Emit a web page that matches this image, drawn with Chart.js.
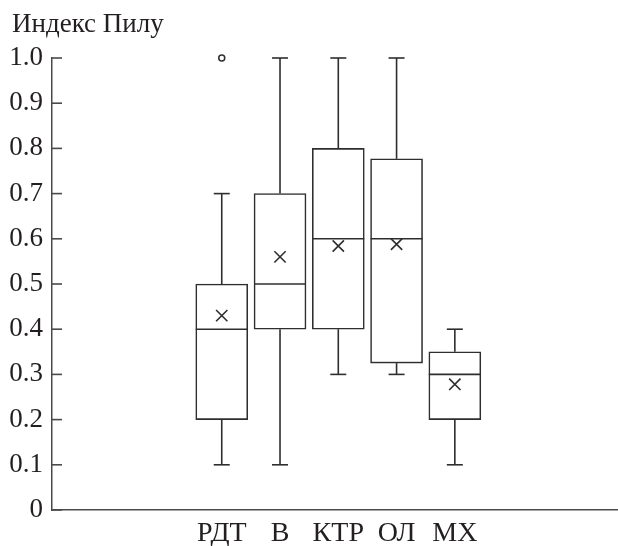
<!DOCTYPE html>
<html>
<head>
<meta charset="utf-8">
<script src="https://cdn.jsdelivr.net/npm/chart.js@4.4.1/dist/chart.umd.min.js"></script>
<style>
  html, body { margin: 0; padding: 0; background: #fff; overflow: hidden; }
  #wrap { width: 618px; height: 546px; position: relative; }
</style>
</head>
<body>
<div id="wrap"><canvas id="chart"></canvas></div>
<script>
// ---- data ----
const groups      = ['РДТ', 'В', 'КТР', 'ОЛ', 'МХ'];
const whiskerLow  = [0.1, 0.1, 0.3, 0.3, 0.1];
const q1          = [0.2, 0.4, 0.4, 0.325, 0.2];
const medians     = [0.4, 0.5, 0.6, 0.6, 0.3];
const q3          = [0.5, 0.7, 0.8, 0.777, 0.35];
const whiskerHigh = [0.7, 1.0, 1.0, 1.0, 0.4];
const means       = [0.43, 0.56, 0.584, 0.588, 0.278];
const outlierGroups = ['РДТ'];
const outlierValues = [1.0];
const yTitle = 'Индекс Пилу';

// ---- styles ----
const FONT = "'Liberation Serif', 'DejaVu Serif', serif";
const TEXT = '#231f20';
const LINE = '#2e2e2e';
const AXIS = '#4a4a4a';

// Box extras: whiskers, caps, medians, inward y ticks and the axis title
const boxExtras = {
  id: 'boxExtras',
  afterDatasetsDraw(chart) {
    const { ctx, chartArea, scales: { y } } = chart;
    const meta = chart.getDatasetMeta(0);
    const line = (x1, y1, x2, y2) => {
      ctx.beginPath(); ctx.moveTo(x1, y1); ctx.lineTo(x2, y2); ctx.stroke();
    };
    ctx.save();
    ctx.strokeStyle = LINE;
    ctx.lineWidth = 1.6;
    meta.data.forEach((bar, i) => {
      const cx = bar.x, half = bar.width / 2, cap = 8;
      const pHi = y.getPixelForValue(whiskerHigh[i]);
      const pLo = y.getPixelForValue(whiskerLow[i]);
      const pQ3 = y.getPixelForValue(q3[i]);
      const pQ1 = y.getPixelForValue(q1[i]);
      const pMed = y.getPixelForValue(medians[i]);
      line(cx, pQ3, cx, pHi); line(cx - cap, pHi, cx + cap, pHi);
      line(cx, pQ1, cx, pLo); line(cx - cap, pLo, cx + cap, pLo);
      line(cx - half, pMed, cx + half, pMed);
    });
    ctx.strokeStyle = AXIS;
    y.ticks.forEach(t => {
      const py = y.getPixelForValue(t.value);
      line(chartArea.left, py, chartArea.left + 10, py);
    });
    ctx.fillStyle = TEXT;
    ctx.font = '27px ' + FONT;
    ctx.textBaseline = 'alphabetic';
    ctx.textAlign = 'left';
    ctx.fillText(yTitle, 12, 32);
    ctx.restore();
  }
};

new Chart(document.getElementById('chart'), {
  type: 'bar',
  data: {
    datasets: [
      {
        label: 'box',
        data: groups.map((g, i) => ({ x: i, y: [q1[i], q3[i]] })),
        backgroundColor: '#ffffff',
        borderColor: LINE,
        borderWidth: 1.6,
        borderSkipped: false,
        barThickness: 52,
        order: 3
      },
      {
        type: 'scatter',
        label: 'mean',
        data: groups.map((g, i) => ({ x: i, y: means[i] })),
        pointStyle: 'crossRot',
        radius: 8,
        borderColor: LINE,
        borderWidth: 1.6,
        clip: false,
        order: 1
      },
      {
        type: 'scatter',
        label: 'outlier',
        data: outlierGroups.map((g, i) => ({ x: groups.indexOf(g), y: outlierValues[i] })),
        pointStyle: 'circle',
        radius: 3,
        backgroundColor: '#ffffff',
        borderColor: LINE,
        borderWidth: 1.5,
        clip: false,
        order: 1
      }
    ]
  },
  options: {
    responsive: true,
    maintainAspectRatio: false,
    animation: false,
    layout: { autoPadding: false, padding: { left: 0, right: 0, top: 58, bottom: 0 } },
    plugins: {
      legend: { display: false },
      tooltip: { enabled: false },
      title: { display: false }
    },
    scales: {
      x: {
        type: 'linear',
        min: -2.913,
        max: 6.80,
        offset: false,
        grid: { display: false, drawTicks: false },
        border: { display: true, color: AXIS, width: 1.5 },
        afterBuildTicks: scale => { scale.ticks = groups.map((g, i) => ({ value: i })); },
        afterFit: scale => { scale.height = 36; scale.paddingLeft = 0; scale.paddingRight = 0; },
        ticks: {
          color: TEXT,
          padding: 7,
          maxRotation: 0,
          autoSkip: false,
          font: { family: FONT, size: 28 },
          callback: v => groups[v]
        }
      },
      y: {
        min: 0,
        max: 1,
        grid: { display: false, drawTicks: false },
        border: { display: true, color: AXIS, width: 1.5 },
        afterFit: scale => { scale.width = 52; scale.paddingTop = 0; scale.paddingBottom = 0; },
        ticks: {
          stepSize: 0.1,
          color: TEXT,
          padding: 9,
          font: { family: FONT, size: 27 },
          callback: v => (v === 0 ? '0' : v.toFixed(1))
        }
      }
    }
  },
  plugins: [boxExtras]
});
</script>
</body>
</html>
